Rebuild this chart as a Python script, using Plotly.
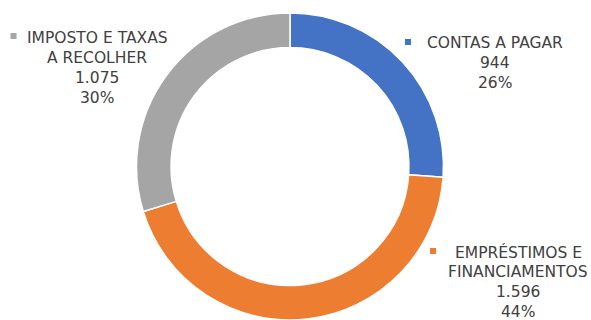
import plotly.graph_objects as go

# Passivo circulante por natureza
labels = ["CONTAS A PAGAR", "EMPRÉSTIMOS E<br>FINANCIAMENTOS", "IMPOSTO E TAXAS<br>A RECOLHER"]
values = [944, 1596, 1075]
colors = ["#4472C4", "#ED7D31", "#A5A5A5"]

total = sum(values)


def fmt_br(n):
    return f"{n:,}".replace(",", ".")


W, H = 591, 320
R = 153.5  # outer radius in px
CX = 290

fig = go.Figure(
    go.Pie(
        labels=labels,
        values=values,
        hole=0.775,
        sort=False,
        direction="clockwise",
        rotation=0,
        marker=dict(colors=colors, line=dict(color="white", width=1.5)),
        textinfo="none",
        hoverinfo="label+value+percent",
        domain=dict(x=[(CX - R) / W, (CX + R) / W], y=[0, 2 * R / H]),
        showlegend=False,
    )
)

# label placement: centre x of the text block, y of the first line, marker square centre
label_pos = [
    dict(x=495, y=43, sq=(408, 42)),
    dict(x=518, y=252, sq=(433, 251)),
    dict(x=97, y=38, sq=(13.5, 36)),
]
LINE_H = 20

font = dict(family="'DejaVu Sans', sans-serif", size=15.5, color="#404040")

for lab, val, col, pos in zip(labels, values, colors, label_pos):
    pct = round(val / total * 100)
    lines = lab.split("<br>") + [fmt_br(val), f"{pct}%"]
    for i, line in enumerate(lines):
        y_px = pos["y"] + i * LINE_H
        fig.add_annotation(
            x=pos["x"] / W, y=1 - y_px / H, xref="paper", yref="paper",
            text=line, showarrow=False, align="center", font=font,
            xanchor="center", yanchor="middle",
        )
    sx, sy = pos["sq"]
    fig.add_shape(
        type="rect", xref="paper", yref="paper",
        x0=(sx - 3) / W, x1=(sx + 3) / W, y0=1 - (sy + 3) / H, y1=1 - (sy - 3) / H,
        fillcolor=col, line=dict(width=0),
    )

fig.update_layout(
    width=W, height=H,
    margin=dict(l=0, r=0, t=0, b=0),
    paper_bgcolor="white",
    plot_bgcolor="white",
)

fig.write_html("out.html", config=dict(displayModeBar=False))
